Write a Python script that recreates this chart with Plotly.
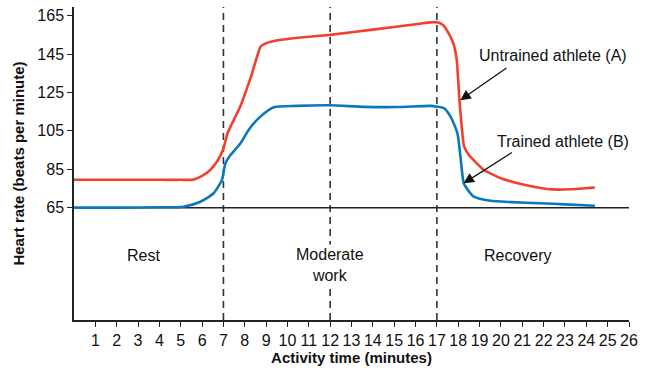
import plotly.graph_objects as go

# Untrained athlete (A) - red
red_x = [0, 2, 4, 5.0, 5.6, 6.0, 6.38, 6.7, 6.98, 7.2, 7.5, 7.8, 8.3, 8.75, 9.05, 9.6, 10.5, 12, 14, 16.2, 16.7, 17.07, 17.3, 17.46, 17.77, 17.93, 18.05, 18.15, 18.27, 18.5, 19.2, 20.0, 20.8, 21.6, 22.4, 23.3, 24.4]
red_y = [79.5, 79.5, 79.5, 79.5, 79.6, 81.5, 84.6, 89, 95, 104, 111, 118, 133.5, 149, 150.8, 152.3, 153.5, 155, 157.7, 160.8, 161.5, 161.4, 160, 157.5, 150.6, 142, 122, 109, 97, 92.4, 84.6, 80.3, 77.7, 75.8, 74.5, 74.6, 75.5]

# Trained athlete (B) - blue
blue_x = [0, 2, 4, 5.13, 5.92, 6.54, 6.93, 7.09, 7.33, 7.8, 8.18, 8.73, 9.36, 10.45, 12, 13.58, 15.14, 16.7, 17.0, 17.33, 17.64, 17.96, 18.1, 18.26, 18.5, 18.73, 19.5, 20.5, 21.84, 23, 24.4]
blue_y = [65, 65, 65.2, 65.5, 68.1, 72.5, 79.4, 88, 92.4, 98.5, 105.5, 112.4, 117.3, 118, 118.3, 117.5, 117.4, 118, 117.6, 116.8, 112.4, 103.8, 92, 77.7, 73.5, 70.7, 68.6, 67.9, 67.3, 66.7, 66]

x_ticks = list(range(1, 27))
y_ticks = [65, 85, 105, 125, 145, 165]
phase_lines = [7, 12, 17]
phase_labels = ["Rest", "Moderate<br>work", "Recovery"]
phase_label_x = [3.25, 12, 20.8]
phase_label_y = [40, 35, 40]

RED = "#f2402e"
BLUE = "#0a78bd"
FONT = "Liberation Sans, Arial, Helvetica, sans-serif"
FS = 16
TFS = 15

fig = go.Figure()
fig.add_trace(go.Scatter(x=red_x, y=red_y, mode="lines",
                         line=dict(color=RED, width=2.6, shape="spline", smoothing=0.45),
                         hoverinfo="skip", showlegend=False))
fig.add_trace(go.Scatter(x=blue_x, y=blue_y, mode="lines",
                         line=dict(color=BLUE, width=2.6, shape="spline", smoothing=0.6),
                         hoverinfo="skip", showlegend=False))

shapes = []
for xv in phase_lines:
    shapes.append(dict(type="line", xref="x", yref="paper", x0=xv, x1=xv, y0=0, y1=1,
                       line=dict(color="#333333", width=1.6, dash="7px,5px"), layer="below"))
shapes.append(dict(type="line", xref="x", yref="y", x0=0, x1=26, y0=65, y1=65,
                   line=dict(color="#222222", width=1.5), layer="below"))

annotations = []
for lx, ly, lt in zip(phase_label_x, phase_label_y, phase_labels):
    annotations.append(dict(x=lx, y=ly, xref="x", yref="y", text=lt, showarrow=False,
                            font=dict(size=FS, color="#111", family=FONT), align="center",
                            bgcolor="white", borderpad=1))

annotations.append(dict(x=22.44, y=144.5, xref="x", yref="y", text="Untrained athlete (A)",
                        showarrow=False, font=dict(size=FS, color="#111", family=FONT)))
annotations.append(dict(x=22.9, y=99.4, xref="x", yref="y", text="Trained athlete (B)",
                        showarrow=False, font=dict(size=FS, color="#111", family=FONT)))
# arrows
annotations.append(dict(x=18.1, y=121.0, ax=20.33, ay=138.3, xref="x", yref="y", axref="x", ayref="y",
                        text="", showarrow=True, arrowhead=2, arrowsize=1.6, arrowwidth=1.3,
                        arrowcolor="#111"))
annotations.append(dict(x=18.25, y=77.7, ax=20.58, ay=94.2, xref="x", yref="y", axref="x", ayref="y",
                        text="", showarrow=True, arrowhead=2, arrowsize=1.6, arrowwidth=1.3,
                        arrowcolor="#111"))

fig.update_layout(
    width=646, height=368,
    margin=dict(l=74, r=17, t=7, b=48),
    paper_bgcolor="white", plot_bgcolor="white",
    font=dict(family=FONT, size=FS, color="#111"),
    shapes=shapes, annotations=annotations,
    xaxis=dict(range=[0, 26], tickvals=x_ticks, ticktext=[str(v) for v in x_ticks],
               showgrid=False, zeroline=False, showline=True, linecolor="#222", linewidth=1.5,
               ticks="outside", ticklen=5, tickwidth=1.3, tickcolor="#222", automargin=False,
               tickfont=dict(size=FS, family=FONT),
               title=dict(text="<b>Activity time (minutes)</b>", font=dict(size=TFS, family=FONT), standoff=2)),
    yaxis=dict(range=[6.5, 169.5], tickvals=y_ticks, ticktext=[str(v) for v in y_ticks],
               showgrid=False, zeroline=False, showline=True, linecolor="#222", linewidth=1.5,
               ticks="outside", ticklen=5, tickwidth=1.3, tickcolor="#222", automargin=False,
               tickfont=dict(size=FS, family=FONT),
               title=dict(text="<b>Heart rate (beats per minute)</b>", font=dict(size=TFS, family=FONT), standoff=9)),
)

fig.write_html("out.html", config={"displayModeBar": False},
               post_script="document.body.style.margin='0';document.body.style.padding='0';")
